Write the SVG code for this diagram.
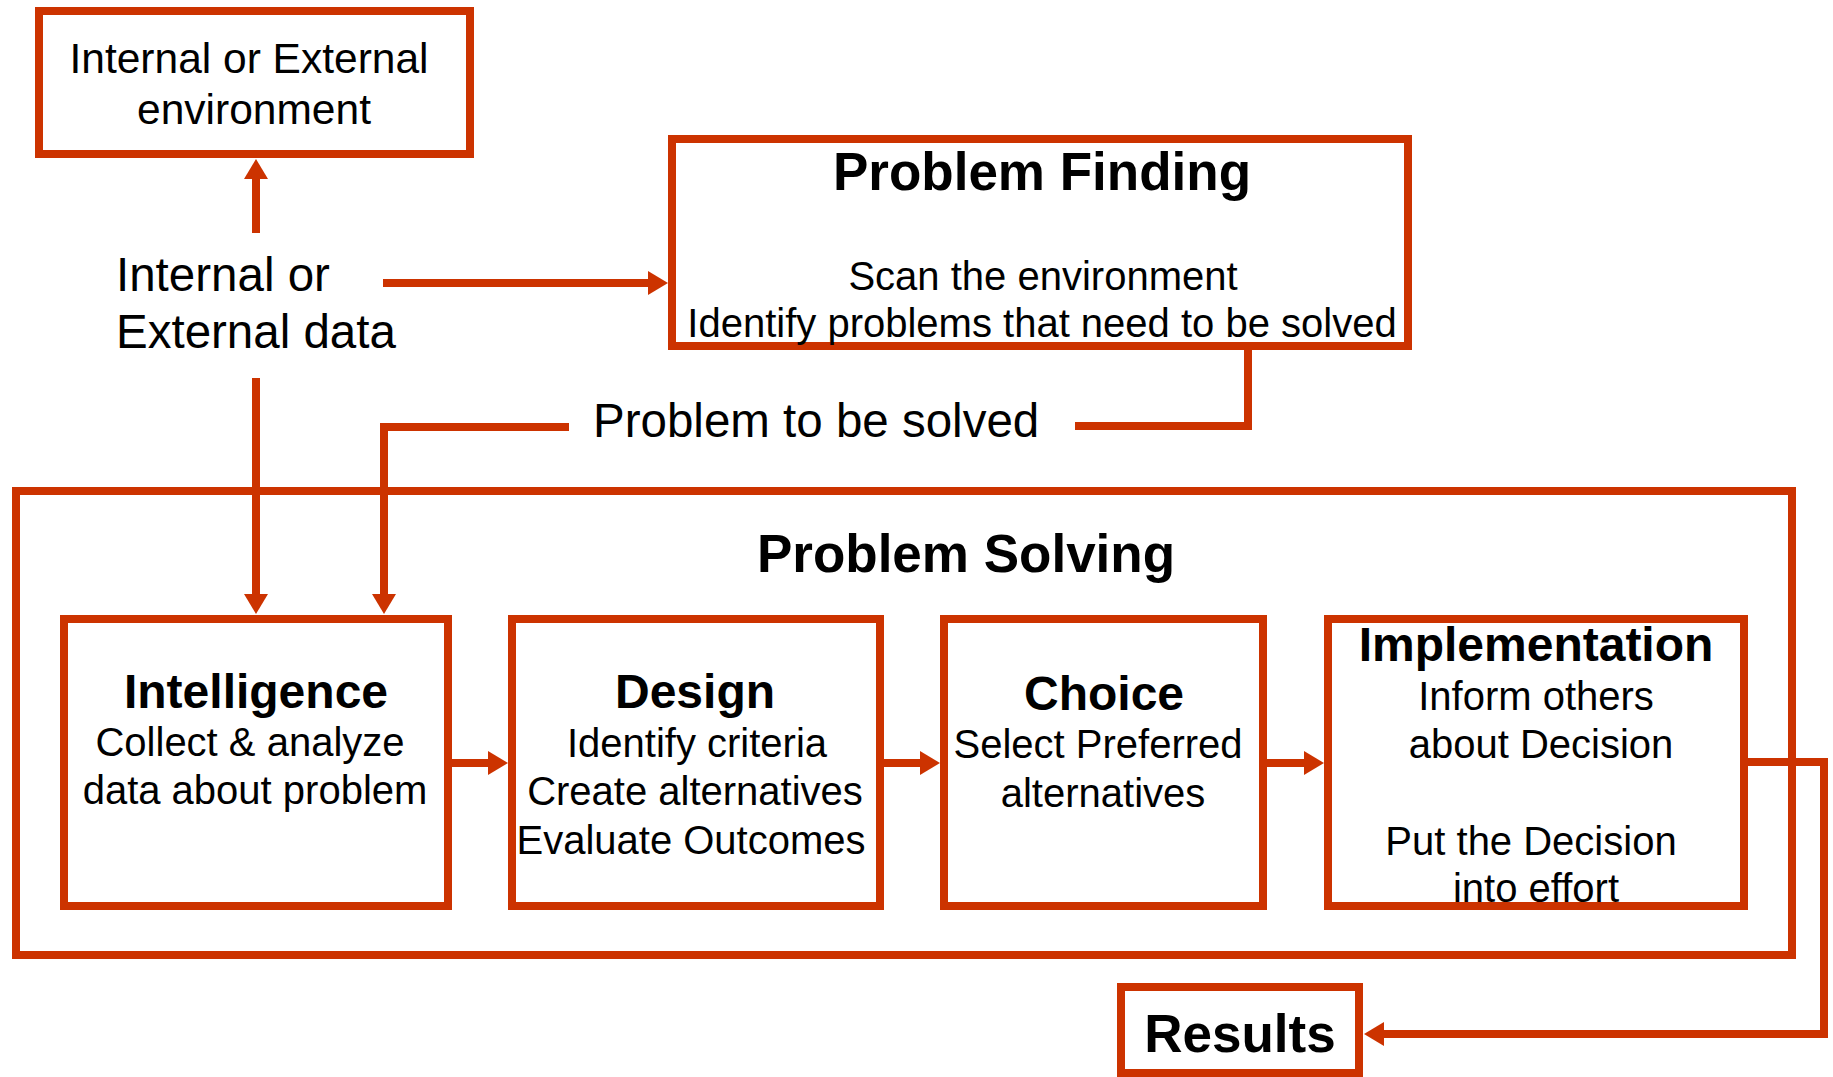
<svg xmlns="http://www.w3.org/2000/svg" width="1833" height="1077" viewBox="0 0 1833 1077">
<style>
.box{fill:none;stroke:#cc3300;stroke-width:8}
.ln{fill:none;stroke:#cc3300;stroke-width:8}
text{font-family:"Liberation Sans",Arial,sans-serif;fill:#000}
.t{font-size:40px;text-anchor:middle}
.h{font-size:48px;font-weight:bold;text-anchor:middle}
.H{font-size:53px;font-weight:bold;text-anchor:middle}
.lbl{font-size:47.5px}
</style>
<defs>
<marker id="ah" viewBox="0 0 20 24" refX="1" refY="12" markerWidth="20" markerHeight="24" markerUnits="userSpaceOnUse" orient="auto">
<path d="M0,0 L20,12 L0,24 Z" fill="#cc3300"/>
</marker>
</defs>
<rect width="1833" height="1077" fill="#fff"/>
<g id="connectors">
<path class="ln" d="M256,233 V178" marker-end="url(#ah)"/>
<path class="ln" d="M383,283 H649" marker-end="url(#ah)"/>
<path class="ln" d="M256,378 V595" marker-end="url(#ah)"/>
<path class="ln" d="M1248,346 V426 H1075"/>
<path class="ln" d="M569,427 H384 V595" marker-end="url(#ah)"/>
<path class="ln" d="M452,763 H489" marker-end="url(#ah)"/>
<path class="ln" d="M884,763 H921" marker-end="url(#ah)"/>
<path class="ln" d="M1267,763 H1305" marker-end="url(#ah)"/>
<path class="ln" d="M1748,762 H1824 V1034 H1383" marker-end="url(#ah)"/>
</g>
<g id="env">
<rect class="box" x="39" y="11" width="431" height="143"/>
<text class="t" style="font-size:42.5px" x="249" y="73">Internal or External</text>
<text class="t" style="font-size:42.5px" x="254" y="124">environment</text>
</g>
<g id="data">
<text class="lbl" x="116" y="291">Internal or</text>
<text class="lbl" x="116" y="348">External data</text>
</g>
<g id="problem-finding">
<rect class="box" x="672" y="139" width="736" height="207"/>
<text class="H" x="1042" y="190">Problem Finding</text>
<text class="t" x="1043" y="290">Scan the environment</text>
<text class="t" x="1042" y="337">Identify problems that need to be solved</text>
</g>
<g id="problem-label">
<text class="lbl" x="593" y="437">Problem to be solved</text>
</g>
<g id="problem-solving">
<rect class="box" x="16" y="491" width="1776" height="464"/>
<text class="H" x="966" y="572">Problem Solving</text>
</g>
<g id="intelligence">
<rect class="box" x="64" y="619" width="384" height="287"/>
<text class="h" x="256" y="708">Intelligence</text>
<text class="t" x="250" y="756">Collect &amp; analyze</text>
<text class="t" x="255" y="804">data about problem</text>
</g>
<g id="design">
<rect class="box" x="512" y="619" width="368" height="287"/>
<text class="h" x="695" y="708">Design</text>
<text class="t" x="697" y="757">Identify criteria</text>
<text class="t" x="695" y="805">Create alternatives</text>
<text class="t" x="691" y="854">Evaluate Outcomes</text>
</g>
<g id="choice">
<rect class="box" x="944" y="619" width="319" height="287"/>
<text class="h" x="1104" y="710">Choice</text>
<text class="t" x="1098" y="758">Select Preferred</text>
<text class="t" x="1103" y="807">alternatives</text>
</g>
<g id="implementation">
<rect class="box" x="1328" y="619" width="416" height="287"/>
<text class="h" x="1536" y="661">Implementation</text>
<text class="t" x="1536" y="710">Inform others</text>
<text class="t" x="1541" y="758">about Decision</text>
<text class="t" x="1531" y="855">Put the Decision</text>
<text class="t" x="1536" y="902">into effort</text>
</g>
<g id="results">
<rect class="box" x="1121" y="987" width="238" height="86"/>
<text class="H" x="1240" y="1052">Results</text>
</g>
</svg>
